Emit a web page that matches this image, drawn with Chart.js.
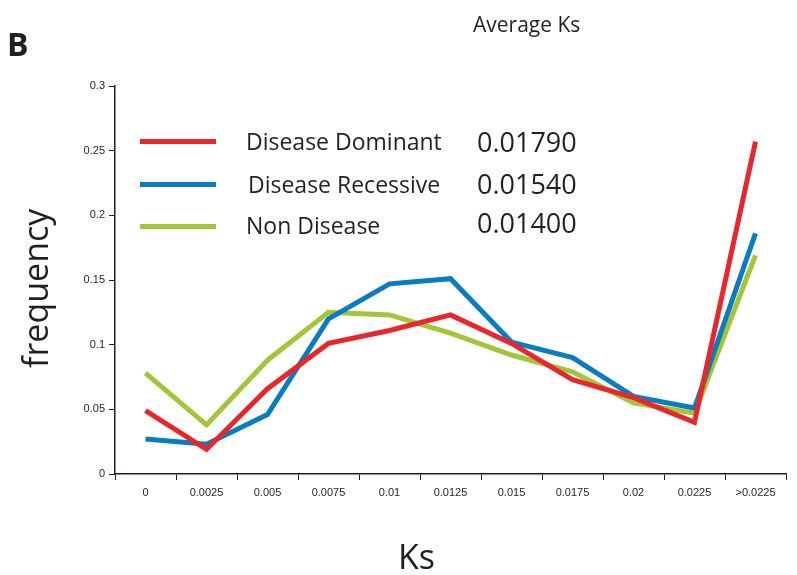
<!DOCTYPE html>
<html>
<head>
<meta charset="utf-8">
<script src="https://cdn.jsdelivr.net/npm/chart.js"></script>
<style>
  body { margin: 0; background: #fff; }
  #wrap { position: relative; width: 797px; height: 575px; }
  .txt { position: absolute; color: #231f20; font-family: "Open Sans", sans-serif; white-space: nowrap; }
  .key { position: absolute; height: 5px; width: 76px; left: 140px; }
</style>
</head>
<body>
<div id="wrap">
  <canvas id="myChart" width="797" height="575"></canvas>
  <div class="txt" style="left:7px;top:22px;font-size:32px;font-weight:bold;">B</div>
  <div class="txt" style="left:473px;top:10px;font-size:21px;">Average Ks</div>
  <div class="txt" style="left:398px;top:533px;font-size:34px;">Ks</div>
  <div class="txt" style="left:-30px;top:280px;font-size:34px;transform:rotate(-90deg);transform-origin:center;width:130px;text-align:center;">frequency</div>

  <div class="key" style="top:139px;background:#e8262b;"></div>
  <div class="key" style="top:182px;background:#0a7cc1;"></div>
  <div class="key" style="top:224px;background:#a3c639;"></div>
  <div class="txt" style="left:246px;top:125px;font-size:23px;">Disease Dominant</div>
  <div class="txt" style="left:248px;top:168px;font-size:23px;">Disease Recessive</div>
  <div class="txt" style="left:246px;top:209px;font-size:23px;">Non Disease</div>
  <div class="txt" style="left:477px;top:123px;font-size:27px;">0.01790</div>
  <div class="txt" style="left:477px;top:165px;font-size:27px;">0.01540</div>
  <div class="txt" style="left:477px;top:204px;font-size:27px;">0.01400</div>
</div>
<script>
const categories = ["0", "0.0025", "0.005", "0.0075", "0.01", "0.0125", "0.015", "0.0175", "0.02", "0.0225", ">0.0225"];
const dominant = [0.049, 0.019, 0.066, 0.101, 0.111, 0.123, 0.101, 0.073, 0.059, 0.040, 0.257];
const recessive = [0.027, 0.023, 0.046, 0.120, 0.147, 0.151, 0.102, 0.090, 0.060, 0.051, 0.186];
const nonDisease = [0.078, 0.038, 0.088, 0.125, 0.123, 0.109, 0.092, 0.079, 0.055, 0.047, 0.169];
const seriesNames = ["Disease Dominant", "Disease Recessive", "Non Disease"];
const yTicks = [0, 0.05, 0.1, 0.15, 0.2, 0.25, 0.3];

const colors = ["#e8262b", "#0a7cc1", "#a3c639"];
const tickFont = { family: "Liberation Sans, Arial, sans-serif", size: 11 };

const ctx = document.getElementById('myChart');
new Chart(ctx, {
  type: 'line',
  data: {
    labels: categories,
    datasets: [dominant, recessive, nonDisease].map((d, i) => ({
      label: seriesNames[i],
      data: d,
      borderColor: colors[i],
      backgroundColor: colors[i],
      borderWidth: 5,
      pointRadius: 0,
      tension: 0,
      borderJoinStyle: 'miter'
    }))
  },
  options: {
    responsive: false,
    animation: false,
    layout: { padding: { left: 75, right: 11, top: 86, bottom: 71 } },
    plugins: { legend: { display: false }, tooltip: { enabled: false } },
    scales: {
      x: {
        offset: true,
        grid: { display: true, drawOnChartArea: false, drawTicks: true, tickLength: 6, color: '#231f20', offset: true },
        border: { color: '#231f20', width: 1.5 },
        ticks: { font: tickFont, color: '#231f20', maxRotation: 0, autoSkip: false, padding: 6 },
        afterFit: s => { s.height = 30; }
      },
      y: {
        min: 0,
        max: 0.3,
        afterBuildTicks: s => { s.ticks = yTicks.map(v => ({ value: v })); },
        grid: { display: true, drawOnChartArea: false, drawTicks: true, tickLength: 6, color: '#231f20' },
        border: { color: '#231f20', width: 1.5 },
        ticks: { font: tickFont, color: '#231f20', padding: 4, callback: v => String(v) },
        afterFit: s => { s.width = 40; }
      }
    }
  }
});
</script>
</body>
</html>
